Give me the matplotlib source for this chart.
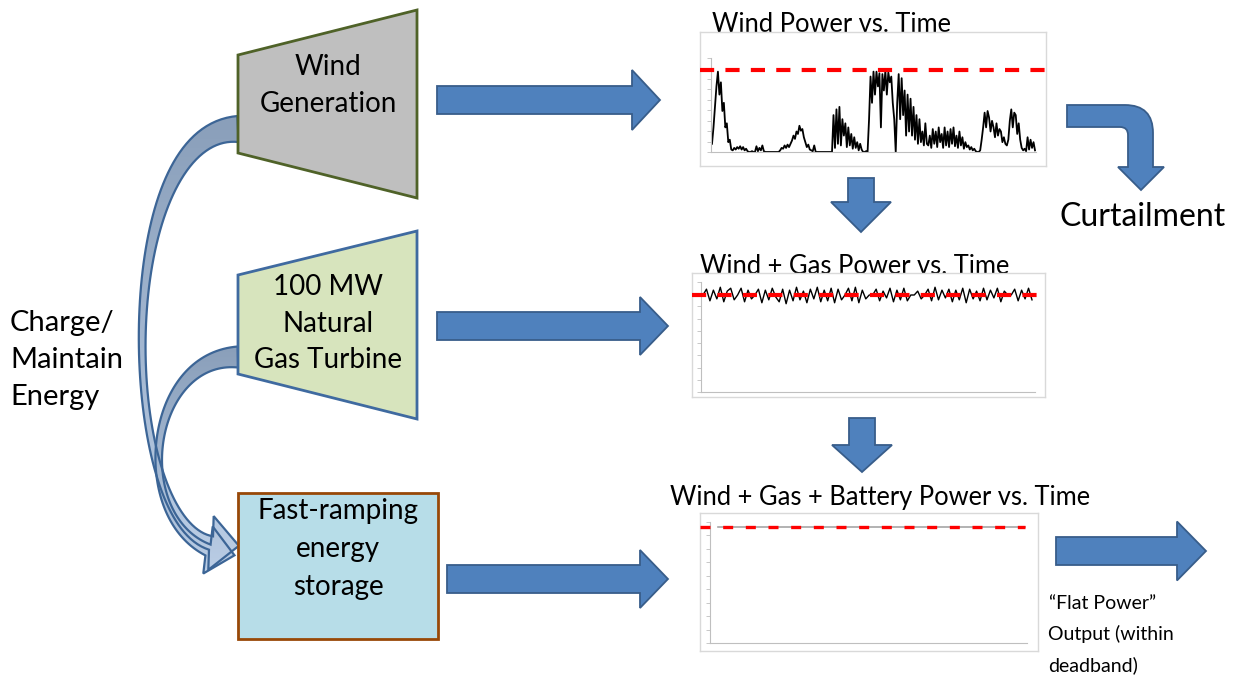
import numpy as np
import matplotlib
matplotlib.use("Agg")
import matplotlib.pyplot as plt
from matplotlib.patches import Polygon, Rectangle, PathPatch
from matplotlib.path import Path

plt.rcParams['font.family'] = ['Lato', 'DejaVu Sans']

# ---- data (normalised power, 1.0 = curtailment limit) ----
wind_power = [
    0.10, 0.30, 0.55, 0.80, 0.98, 0.70, 0.85, 0.50, 0.60, 0.30, 0.35, 0.12, 0.15, 0.03,
    0.02, 0.05, 0.03, 0.06, 0.04, 0.07, 0.03, 0.06, 0.02, 0.04,
    0.01, 0.00, 0.00, 0.01, 0.00, 0.00,
    0.07, 0.01, 0.05, 0.02, 0.08, 0.01,
    0.00, 0.00, 0.00, 0.00, 0.00, 0.00, 0.00, 0.00, 0.00, 0.00,
    0.02, 0.05, 0.04, 0.08, 0.05, 0.09, 0.06, 0.10,
    0.14, 0.20, 0.16, 0.25, 0.22, 0.32, 0.26, 0.28, 0.18,
    0.12, 0.06, 0.09, 0.03, 0.02, 0.01, 0.08, 0.00,
    0.00, 0.00, 0.00, 0.00, 0.00, 0.00, 0.00, 0.00, 0.00, 0.00, 0.00,
    0.45, 0.05, 0.52, 0.10, 0.55, 0.08, 0.40, 0.20, 0.35, 0.06, 0.30, 0.08, 0.22,
    0.04, 0.18, 0.05, 0.12, 0.02, 0.10, 0.03,
    0.00, 0.00, 0.01, 0.00,
    0.40, 0.92, 0.60, 0.98, 0.70, 0.98, 0.80, 0.96, 0.30, 0.95, 0.75, 0.99, 0.70, 0.97,
    0.85, 0.92, 0.60, 0.40,
    0.00, 0.60, 0.95, 0.40, 0.90, 0.45, 0.75, 0.20, 0.70, 0.25, 0.65, 0.20, 0.55, 0.15,
    0.45, 0.10, 0.40, 0.12, 0.25, 0.08, 0.35, 0.10,
    0.08, 0.20, 0.05, 0.28, 0.10, 0.25, 0.06, 0.30, 0.12, 0.22, 0.05, 0.30,
    0.08, 0.25, 0.06, 0.28, 0.10, 0.30, 0.07, 0.20, 0.05, 0.25, 0.08,
    0.18, 0.04, 0.12, 0.06, 0.08, 0.03, 0.06, 0.02, 0.04, 0.01,
    0.00, 0.00, 0.02,
    0.15, 0.30, 0.48, 0.30, 0.50, 0.42, 0.25, 0.38, 0.30, 0.18, 0.35, 0.20, 0.28,
    0.25, 0.12, 0.18, 0.10, 0.08,
    0.15, 0.38, 0.52, 0.30, 0.48, 0.45, 0.22, 0.35, 0.15,
    0.05, 0.02, 0.04, 0.01, 0.18, 0.03, 0.15, 0.05, 0.12, 0.02,
]
wind_gas_power = [
    1.00, 1.06, 0.94, 1.05, 0.96, 1.08, 0.93, 1.04, 1.07, 0.95, 1.00, 1.07,
    0.93, 1.05, 0.96, 1.00, 1.06, 0.92, 1.05, 0.95, 1.07, 0.98, 0.93, 1.06,
    0.91, 1.05, 0.94, 1.08, 0.95, 1.04, 0.92, 1.06, 0.96, 1.08, 0.93, 1.05,
    0.94, 1.07, 0.92, 1.06, 0.95, 1.00, 1.07, 0.94, 1.08, 0.92, 1.05, 0.96,
    1.00, 1.00, 1.06, 0.94, 1.04, 0.97, 1.07, 0.93, 1.05, 0.95, 1.07, 0.94,
    1.00, 1.00, 1.04, 0.96, 1.00, 1.06, 0.94, 1.08, 0.95, 1.05, 0.97, 1.06,
    0.93, 1.05, 0.95, 1.07, 0.92, 1.06, 0.96, 1.04, 0.94, 1.07, 0.95, 1.05,
    0.97, 1.07, 0.93, 1.04, 1.00, 1.00, 1.06, 0.94, 1.05, 0.96, 1.07, 0.95,
]
battery_power = [1.0, 1.0, 1.0, 1.0, 1.0, 1.0, 1.0, 1.0, 1.0, 1.0]

chart_titles = ["Wind Power vs. Time", "Wind + Gas Power vs. Time",
                "Wind + Gas + Battery Power vs. Time"]

W, H = 1240, 684
fig = plt.figure(figsize=(W / 100, H / 100), dpi=100)
ax = fig.add_axes([0, 0, 1, 1])
ax.set_xlim(0, W)
ax.set_ylim(H, 0)
ax.axis('off')

BLUE = '#4F81BD'
BLUE_EDGE = '#385D8A'


def px_axes(x0, y0, x1, y1):
    return fig.add_axes([x0 / W, 1 - y1 / H, (x1 - x0) / W, (y1 - y0) / H])


def right_arrow(x0, x1, yc, sh, hh, hl):
    pts = [(x0, yc - sh / 2), (x1 - hl, yc - sh / 2), (x1 - hl, yc - hh / 2), (x1, yc),
           (x1 - hl, yc + hh / 2), (x1 - hl, yc + sh / 2), (x0, yc + sh / 2)]
    ax.add_patch(Polygon(pts, closed=True, fc=BLUE, ec=BLUE_EDGE, lw=1.3, zorder=3))


def down_arrow(xc, y0, y1, sw, hw, hl):
    pts = [(xc - sw / 2, y0), (xc + sw / 2, y0), (xc + sw / 2, y1 - hl), (xc + hw / 2, y1 - hl),
           (xc, y1), (xc - hw / 2, y1 - hl), (xc - sw / 2, y1 - hl)]
    ax.add_patch(Polygon(pts, closed=True, fc=BLUE, ec=BLUE_EDGE, lw=1.3, zorder=3))


def bez(P, t):
    P = np.asarray(P, float)
    t = t[:, None]
    return ((1 - t) ** 3 * P[0] + 3 * (1 - t) ** 2 * t * P[1]
            + 3 * (1 - t) * t ** 2 * P[2] + t ** 3 * P[3])


def curved_arrow(P, w0, wm, w1, hl, hw, hdir):
    t = np.linspace(0, 1, 80)
    c = bez(P, t)
    d = np.gradient(c, axis=0)
    d /= np.linalg.norm(d, axis=1)[:, None]
    nrm = np.column_stack([-d[:, 1], d[:, 0]])
    # quadratic width profile through start / middle / end
    w = w0 * (1 - t) * (1 - 2 * t) + wm * 4 * t * (1 - t) + w1 * t * (2 * t - 1)
    left = c + nrm * (w[:, None] / 2)
    right = c - nrm * (w[:, None] / 2)
    de = np.asarray(hdir, float)
    de /= np.linalg.norm(de)
    ne = np.array([-de[1], de[0]])
    end = c[-1]
    head = [end + ne * hw / 2, end + de * hl, end - ne * hw / 2]
    pts = np.vstack([left, head, right[::-1]])
    poly = Polygon(pts, closed=True, fc='none', ec='#3C6596', lw=1.6, zorder=2)
    ax.add_patch(poly)
    x0, y0 = pts.min(axis=0)
    x1, y1 = pts.max(axis=0)
    grad = np.linspace(0, 1, 100)[:, None]
    cmap = matplotlib.colors.LinearSegmentedColormap.from_list('g', ['#8A9FBA', '#BBCEE6'])
    im = ax.imshow(grad, cmap=cmap, extent=[x0, x1, y1, y0], aspect='auto', zorder=1.9)
    im.set_clip_path(poly)


# ---- curved "charge / maintain" arrows ----
curved_arrow([(238, 129), (112, 130), (118, 520), (211, 543)], 26, 7, 14, 28, 54, (1, 0.1))
curved_arrow([(238, 357), (148, 357), (130, 515), (208, 550)], 21, 7, 12, 27, 48, (1, 0.2))

# ---- source shapes ----
ax.add_patch(Polygon([(238, 55), (417, 10), (417, 198), (238, 153)], closed=True,
                     fc='#BFBFBF', ec='#4F6228', lw=2, zorder=4))
ax.add_patch(Polygon([(238, 275), (417, 231), (417, 419), (238, 374)], closed=True,
                     fc='#D7E4BD', ec='#3F6AA0', lw=2, zorder=4))
ax.add_patch(Rectangle((238, 493), 200, 146, fc='#B7DDE8', ec='#984807', lw=2, zorder=4))

tk = dict(ha='center', va='baseline', fontsize=20, color='black', zorder=5)
ax.text(328, 75, "Wind", **tk)
ax.text(328, 112, "Generation", **tk)
ax.text(328, 295, "100 MW", **tk)
ax.text(328, 332, "Natural", **tk)
ax.text(328, 368, "Gas Turbine", **tk)
ax.text(338, 519, "Fast-ramping", **tk)
ax.text(338, 557, "energy", **tk)
ax.text(338, 595, "storage", **tk)

lk = dict(ha='left', va='baseline', fontsize=21, color='black')
ax.text(10, 331, "Charge/", **lk)
ax.text(10, 368, "Maintain", **lk)
ax.text(10, 405, "Energy", **lk)

# ---- block arrows ----
right_arrow(437, 660, 100, 28, 60, 28)
right_arrow(437, 668, 326, 28, 58, 28)
right_arrow(447, 668, 579, 28, 58, 28)
right_arrow(1056, 1206, 551, 28, 59, 29)
down_arrow(861, 178, 232, 26, 60, 30)
down_arrow(862, 418, 472, 26, 60, 27)

# curtailment bend arrow
verts = [(1067, 105), (1125, 105), (1153, 105), (1153, 133), (1153, 167), (1164, 167),
         (1141, 190), (1118, 167), (1128, 167), (1128, 135), (1128, 127), (1120, 127),
         (1067, 127), (1067, 105)]
codes = [Path.MOVETO, Path.LINETO, Path.CURVE3, Path.CURVE3, Path.LINETO, Path.LINETO,
         Path.LINETO, Path.LINETO, Path.LINETO, Path.LINETO, Path.CURVE3, Path.CURVE3,
         Path.LINETO, Path.CLOSEPOLY]
ax.add_patch(PathPatch(Path(verts, codes), fc=BLUE, ec=BLUE_EDGE, lw=1.3, zorder=3))
ax.text(1143, 226, "Curtailment", ha='center', va='baseline', fontsize=23)

fk = dict(ha='left', va='baseline', fontsize=14)
ax.text(1049, 609, "\u201cFlat Power\u201d", **fk)
ax.text(1048, 640, "Output (within", **fk)
ax.text(1048, 671, "deadband)", **fk)


# ---- small time-series charts ----
def small_chart(box, inner, series, cap_y, red_span, red_lw, red_dash, data_span,
                title, title_xy, n_ticks, line_color='black', line_lw=1.0):
    L, T, R, B = box
    a, top, b, y0 = inner
    frame = px_axes(L, T, R, B)
    frame.set_xticks([])
    frame.set_yticks([])
    for s in frame.spines.values():
        s.set_color('#D9D9D9')
        s.set_linewidth(1.0)
    frame.set_facecolor('white')
    frame.set_zorder(2)

    inn = px_axes(a, top, b, y0)
    inn.set_zorder(3)
    inn.patch.set_alpha(0)
    # pixel -> data mapping
    n = len(series)
    xs, xe = data_span
    sx = (xe - xs) / (n - 1)
    inn.set_xlim(-(xs - a) / sx, (n - 1) + (b - xe) / sx)
    ky = (y0 - cap_y)
    inn.set_ylim(0, (y0 - top) / ky)
    for k in ['top', 'right']:
        inn.spines[k].set_visible(False)
    for k in ['left', 'bottom']:
        inn.spines[k].set_color('#BFBFBF')
        inn.spines[k].set_linewidth(0.8)
    inn.set_xticks([])
    inn.set_yticks(np.linspace(0, (y0 - top) / ky, n_ticks))
    inn.tick_params(axis='y', length=3, width=0.6, color='#BFBFBF', labelleft=False)
    inn.plot(range(n), series, color=line_color, lw=line_lw, zorder=2, clip_on=False)
    rx0, rx1 = red_span
    inn.plot([(rx0 - xs) / sx, (n - 1) + (rx1 - xe) / sx], [1, 1],
             color='#FF0000', lw=red_lw, dashes=red_dash, clip_on=False,
             zorder=3, solid_capstyle='butt', dash_capstyle='butt')
    ax.text(title_xy[0], title_xy[1], title, ha='center', va='baseline', fontsize=18.4)


small_chart((700, 32, 1046, 166), (711, 58, 1036, 152), wind_power, 70,
            (700, 1046), 3.0, (3.4, 2.7), (712, 1035),
            chart_titles[0], (832, 32), 10, line_lw=1.3)
small_chart((692, 273, 1045, 397), (701, 282, 1035, 392), wind_gas_power, 295,
            (692, 1046), 3.0, (3.4, 2.7), (703, 1032),
            chart_titles[1], (855, 274), 10, line_lw=1.0)
small_chart((700, 513, 1038, 651), (710, 522, 1027, 643), battery_power, 527,
            (700, 1025), 2.4, (3.0, 3.8), (718, 1025),
            chart_titles[2], (880, 505), 10, line_color='#A6A6A6', line_lw=1.2)

fig.savefig("out.png", dpi=100)
